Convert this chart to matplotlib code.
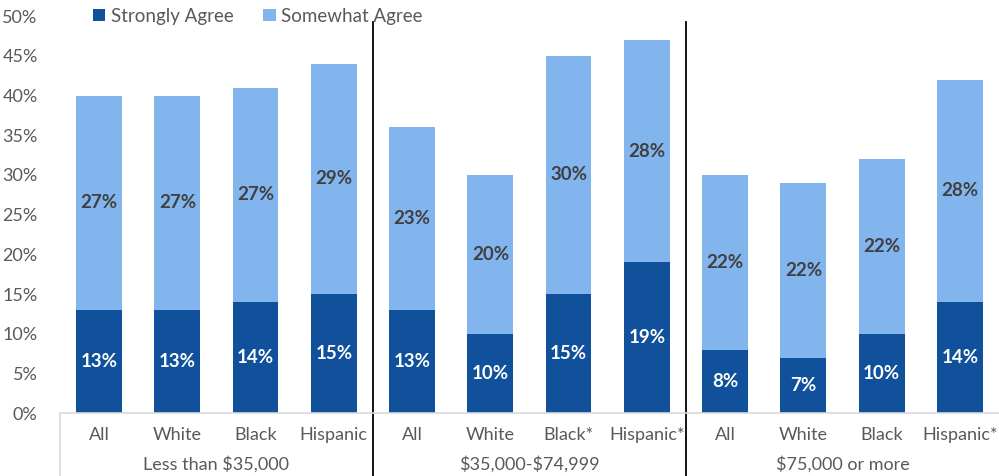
import matplotlib.pyplot as plt
from matplotlib.lines import Line2D
import numpy as np

plt.rcParams['font.family'] = ['Lato', 'DejaVu Sans']

# data
groups = ["Less than \\$35,000", "\\$35,000-\\$74,999", "\\$75,000 or more"]
categories = ["All", "White", "Black", "Hispanic",
              "All", "White", "Black*", "Hispanic*",
              "All", "White", "Black", "Hispanic*"]
strongly = [13, 13, 14, 15, 13, 10, 15, 19, 8, 7, 10, 14]
somewhat = [27, 27, 27, 29, 23, 20, 30, 28, 22, 22, 22, 28]

dark = "#11509A"
light = "#82B4EE"
gray = "#595959"

fig = plt.figure(figsize=(9.99, 4.76), dpi=100)
ax = fig.add_axes([0.06, 0.132, 0.94, 0.834])

x = np.arange(len(categories))
w = 0.585
b1 = ax.bar(x, strongly, w, color=dark, label="Strongly Agree")
b2 = ax.bar(x, somewhat, w, bottom=strongly, color=light, label="Somewhat Agree")

for i in range(len(x)):
    ax.text(x[i], strongly[i] / 2, f"{strongly[i]}%", ha="center", va="center",
            color="white", fontsize=13.5, fontweight="bold")
    ax.text(x[i], strongly[i] + somewhat[i] / 2, f"{somewhat[i]}%", ha="center",
            va="center", color="#404040", fontsize=13.5, fontweight="bold")

ax.set_xlim(-0.5, len(x) - 0.5)
ax.set_ylim(0, 50)
ax.set_yticks(range(0, 51, 5))
ax.set_yticklabels([f"{v}%" for v in range(0, 51, 5)])
ax.set_xticks(x)
ax.set_xticklabels(categories)
ax.tick_params(axis="both", length=0, colors=gray, labelsize=13)
ax.tick_params(axis="x", pad=10)
ax.tick_params(axis="y", pad=16)

for s in ["top", "right", "left"]:
    ax.spines[s].set_visible(False)
ax.spines["bottom"].set_color("#D9D9D9")
ax.spines["bottom"].set_linewidth(1.2)

# group labels
for g, name in enumerate(groups):
    ax.text(g * 4 + 1.5, -0.128, name, transform=ax.get_xaxis_transform(),
            ha="center", va="center", color=gray, fontsize=13)

# separators
for pos in [3.5, 7.5]:
    ax.add_line(Line2D([pos, pos], [-0.16, 0.985], color="black", lw=1.3,
                       transform=ax.get_xaxis_transform(), clip_on=False))
ax.add_line(Line2D([-0.5, -0.5], [-0.16, 0], color="#D9D9D9", lw=1.2,
                   transform=ax.get_xaxis_transform(), clip_on=False))

fig.legend(handles=[b1, b2], loc="center left", bbox_to_anchor=(0.076, 0.966),
           ncol=2, frameon=False, fontsize=13.5, labelcolor=gray,
           handlelength=0.65, handleheight=0.65, handletextpad=0.3, columnspacing=1.6)

fig.savefig("out.png", dpi=100)
